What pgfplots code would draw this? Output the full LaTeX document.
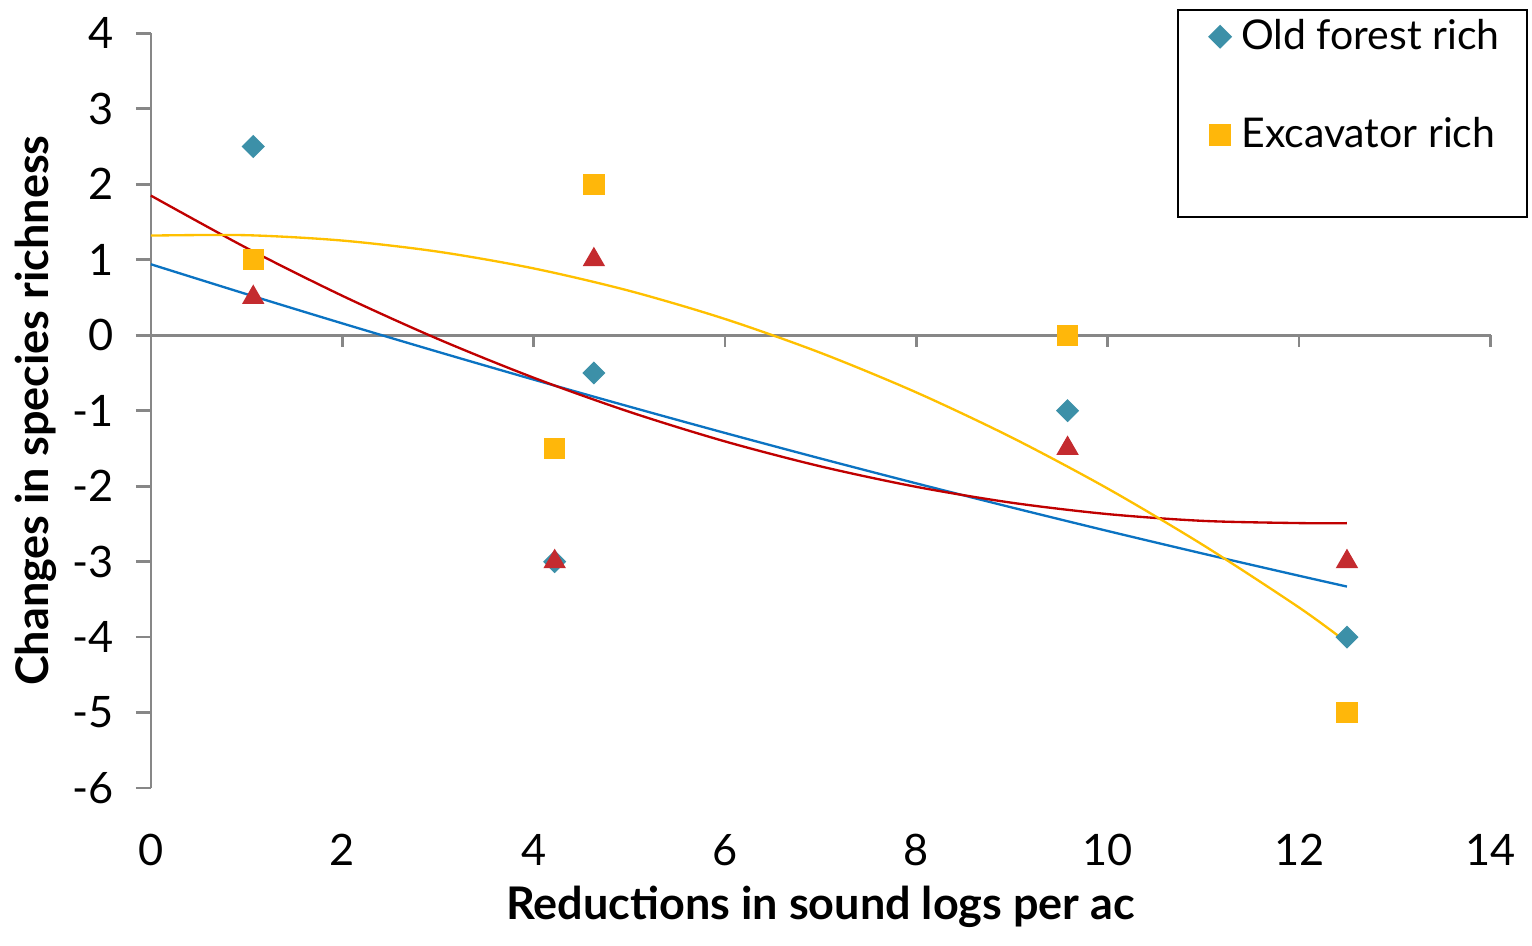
\documentclass[border=0pt]{standalone}
\usepackage{fontspec}
\setmainfont{Lato}
\usepackage{pgfplots}
\pgfplotsset{compat=1.18}

\definecolor{axisgray}{HTML}{878787}
\definecolor{oldforest}{HTML}{3C90A8}
\definecolor{excav}{HTML}{FFB70A}
\definecolor{tri}{HTML}{C42B2F}
\definecolor{bluefit}{HTML}{0B73C2}
\definecolor{redfit}{HTML}{C00000}
\definecolor{yelfit}{HTML}{FFC000}

\pgfplotsset{
  markleg/.style={legend image code/.code={
    \path (-7.3pt,0pt) (2pt,0pt);
    \draw[##1] plot coordinates {(0pt,0pt)};}}
}

\begin{document}
\begin{tikzpicture}
\begin{axis}[
    scale only axis,
    width=402pt, height=226.5pt,
    xmin=0, xmax=14, ymin=-6, ymax=4,
    xtick={0,2,...,14}, ytick={-6,-5,...,4},
    axis x line=bottom, axis y line=left,
    x axis line style={draw=none},
    y axis line style={-, draw=axisgray, line width=0.8pt},
    xtick style={draw=none},
    ytick style={draw=axisgray, line width=0.8pt},
    tick align=outside, major tick length=4.5pt,
    /pgf/number format/assume math mode=true,
    ticklabel style={font=\fontsize{13}{15}\selectfont},
    yticklabel style={xshift=-3pt},
    xticklabel style={yshift=-5.9pt},
    xlabel={\textbf{Reductions in sound logs per ac}},
    ylabel={\textbf{Changes in species richness}},
    label style={font=\fontsize{13.5}{16}\selectfont},
    xlabel style={yshift=1pt},
    ylabel style={yshift=-2pt},
    clip=false,
    legend style={at={(1.028,1.032)}, anchor=north east,
        draw=black, line width=0.6pt,
        font=\fontsize{12.3}{15}\selectfont,
        row sep=15pt, inner xsep=5pt, inner ysep=0.7pt,
        nodes={inner xsep=3.2pt}},
    legend cell align=left,
]
% axis line at zero with downward ticks
\draw[axisgray, line width=0.8pt] ([xshift=-4.5pt]axis cs:0,0) -- (axis cs:14,0);
\pgfplotsinvokeforeach{2,4,6,8,10,12,14}{
  \draw[axisgray, line width=0.8pt] (axis cs:#1,0) -- ([yshift=-3.6pt]axis cs:#1,0);
}

% trend lines
\addplot[forget plot, bluefit, line width=0.7pt, smooth] coordinates {
 (0,0.94) (1,0.544) (2,0.157) (3,-0.220) (4,-0.588) (5,-0.946) (6,-1.295)
 (7,-1.634) (8,-1.963) (9,-2.283) (10,-2.594) (11,-2.895) (12,-3.187) (12.5,-3.33)};
\addplot[forget plot, redfit, line width=0.7pt, smooth] coordinates {
 (0,1.85) (1,1.156) (2,0.523) (3,-0.050) (4,-0.563) (5,-1.015) (6,-1.407)
 (7,-1.738) (8,-2.009) (9,-2.220) (10,-2.37) (11,-2.46) (12,-2.489) (12.5,-2.49)};
\addplot[forget plot, yelfit, line width=0.7pt, smooth] coordinates {
 (0,1.32) (1,1.325) (2,1.254) (3,1.107) (4,0.885) (5,0.588) (6,0.215)
 (7,-0.234) (8,-0.758) (9,-1.357) (10,-2.032) (11,-2.783) (12,-3.608) (12.5,-4.07)};

% data
\addplot[only marks, mark=square*, mark size=2.25pt, oldforest,
  mark options={draw=oldforest, fill=oldforest, rotate=45}, markleg] coordinates {
 (1.07,2.5) (4.22,-3) (4.63,-0.5) (9.58,-1) (12.5,-4)};
\addlegendentry{Old forest rich}
\addplot[only marks, mark=square*, mark size=3pt, excav,
  mark options={draw=excav, fill=excav}, markleg] coordinates {
 (1.07,1) (4.22,-1.5) (4.63,2) (9.58,0) (12.5,-5)};
\addlegendentry{Excavator rich}
\addlegendimage{empty legend}
\addlegendentry[inner sep=0pt]{}
\addplot[forget plot, only marks, mark=triangle*, mark size=3.5pt, tri,
  mark options={draw=tri, fill=tri}] coordinates {
 (1.07,0.5) (4.22,-3) (4.63,1) (9.58,-1.5) (12.5,-3)};
\end{axis}
\path ([xshift=-1.2pt,yshift=2pt]current bounding box.north west);
\path ([xshift=1.2pt,yshift=-2pt]current bounding box.south east);
\end{tikzpicture}
\end{document}
